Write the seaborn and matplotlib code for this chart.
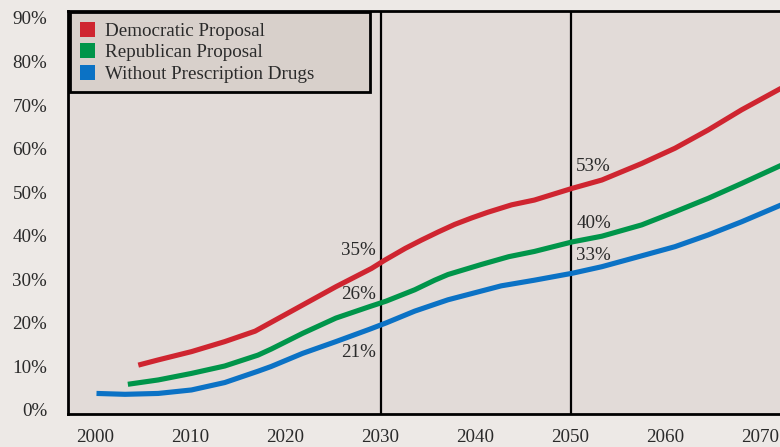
import matplotlib
matplotlib.use("Agg")
import matplotlib.pyplot as plt
import seaborn as sns
import pandas as pd
from matplotlib.patches import Patch
from matplotlib.ticker import FuncFormatter

# ---- data ----
series_names = ["Democratic Proposal", "Republican Proposal", "Without Prescription Drugs"]

dem_years = [2004.5, 2006.6, 2010.1, 2013.6, 2016.8, 2018.3, 2021.8, 2025.3, 2029.05,
             2030.45, 2032.6, 2034.3, 2036.1, 2037.8, 2039.6, 2041.3, 2043.8, 2046.2,
             2050.2, 2053.3, 2057.5, 2061.0, 2064.5, 2068.0, 2072.2]
dem_values = [10.3, 11.5, 13.4, 15.7, 18.1, 19.9, 24.1, 28.3, 32.5,
              34.4, 37.1, 39.0, 40.9, 42.6, 44.1, 45.4, 47.1, 48.2,
              50.9, 52.8, 56.6, 60.1, 64.3, 68.9, 73.9]

rep_years = [2003.4, 2006.6, 2010.1, 2013.6, 2017.1, 2018.5, 2021.8, 2025.3, 2028.8,
             2030.6, 2033.6, 2035.7, 2037.1, 2040.6, 2043.5, 2046.2, 2050.2, 2053.3,
             2057.5, 2061.0, 2064.5, 2068.0, 2072.2]
rep_values = [5.9, 6.9, 8.4, 10.1, 12.6, 14.0, 17.6, 21.1, 23.7,
              25.0, 27.6, 29.8, 31.1, 33.4, 35.2, 36.4, 38.6, 39.9,
              42.5, 45.5, 48.6, 52.0, 56.2]

wo_years = [2000.1, 2003.1, 2006.6, 2010.1, 2013.6, 2017.1, 2018.5, 2021.8, 2025.3,
            2028.8, 2030.6, 2033.6, 2037.1, 2040.6, 2042.7, 2046.2, 2050.2, 2053.3,
            2057.5, 2061.0, 2064.5, 2068.0, 2072.2]
wo_values = [3.8, 3.6, 3.8, 4.6, 6.3, 8.9, 10.0, 13.0, 15.7,
             18.5, 20.0, 22.7, 25.3, 27.3, 28.5, 29.8, 31.4, 32.9,
             35.4, 37.5, 40.2, 43.2, 47.1]

x_ticks = [2000, 2010, 2020, 2030, 2040, 2050, 2060, 2070]
y_ticks = [0, 10, 20, 30, 40, 50, 60, 70, 80, 90]
marker_years = [2030, 2050]

ann_labels_2030 = ["35%", "26%", "21%"]
ann_labels_2050 = ["53%", "40%", "33%"]

colors = ["#cf2530", "#00954a", "#0b72c5"]

df = pd.concat([
    pd.DataFrame({"year": dem_years, "value": dem_values, "series": series_names[0]}),
    pd.DataFrame({"year": rep_years, "value": rep_values, "series": series_names[1]}),
    pd.DataFrame({"year": wo_years, "value": wo_values, "series": series_names[2]}),
], ignore_index=True)

sns.set_style("white")
plt.rcParams["font.family"] = ["Liberation Serif", "DejaVu Serif"]

FIG_BG = "#ede9e6"
AX_BG = "#e2dbd8"
LEG_BG = "#d8d0cb"
TXT = "#2a2a2a"
FS = 13.7

fig = plt.figure(figsize=(7.8, 4.47), dpi=100, facecolor=FIG_BG)
ax = fig.add_axes([68 / 780, (447 - 414) / 447, 712 / 780, 403 / 447])
ax.set_facecolor(AX_BG)

sns.lineplot(data=df, x="year", y="value", hue="series", hue_order=series_names,
             palette=colors, estimator=None, sort=False, linewidth=3.7,
             legend=False, ax=ax, solid_capstyle="butt", solid_joinstyle="round")

for yr in marker_years:
    ax.axvline(yr, color="black", lw=1.6, zorder=1)

ax.set_xlim(1997.1, 2072.05)
ax.set_ylim(-0.92, 91.6)
ax.set_xticks(x_ticks)
ax.set_yticks(y_ticks)
ax.yaxis.set_major_formatter(FuncFormatter(lambda v, p: f"{int(v)}%"))
ax.tick_params(axis="both", length=0, labelsize=FS, colors=TXT)
ax.tick_params(axis="y", pad=15)
ax.tick_params(axis="x", pad=10.5)
ax.set_xlabel("")
ax.set_ylabel("")

for side in ["left", "bottom", "top"]:
    ax.spines[side].set_visible(True)
    ax.spines[side].set_color("black")
    ax.spines[side].set_linewidth(2.0)
ax.spines["right"].set_visible(False)

# annotations
for lab, y in zip(ann_labels_2030, [36.7, 26.4, 13.1]):
    ax.text(2029.5, y, lab, ha="right", va="center", fontsize=FS, color=TXT)
for lab, y in zip(ann_labels_2050, [56.0, 42.7, 35.4]):
    ax.text(2050.6, y, lab, ha="left", va="center", fontsize=FS, color=TXT)

handles = [Patch(facecolor=c, edgecolor="none") for c in colors]
leg = ax.legend(handles, series_names, loc="upper left",
                bbox_to_anchor=(0.003, 0.997, 0.421, 0.0), mode="expand",
                fontsize=FS, frameon=True, fancybox=False, borderaxespad=0,
                handlelength=0.82, handleheight=0.82, handletextpad=0.5,
                labelspacing=0.19, borderpad=0.5, labelcolor=TXT)
fr = leg.get_frame()
fr.set_facecolor(LEG_BG)
fr.set_edgecolor("black")
fr.set_linewidth(2.0)
fr.set_alpha(1)

fig.savefig("out.png", dpi=100, facecolor=FIG_BG)
